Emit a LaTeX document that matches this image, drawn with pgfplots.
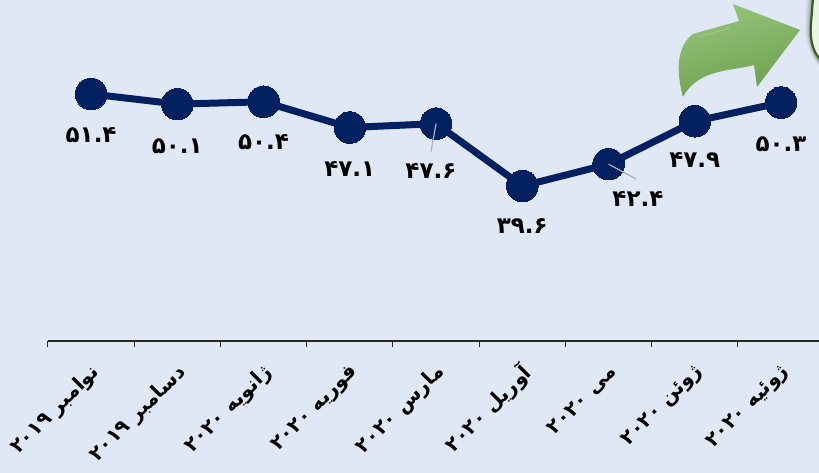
\documentclass[border=0pt]{standalone}
\usepackage{fontspec}
\usepackage{pgfplots}
\pgfplotsset{compat=1.18}
\TeXXeTstate=1
\newfontfamily\arabicfont[Script=Arabic]{DejaVu Sans}
\definecolor{bgblue}{RGB}{224,232,245}
\definecolor{navy}{RGB}{0,32,96}
\definecolor{leader}{RGB}{175,175,175}
\definecolor{arrowdark}{RGB}{108,160,78}
\definecolor{arrowlight}{RGB}{150,196,122}
\definecolor{boxedge}{RGB}{50,95,30}
\definecolor{boxfill}{RGB}{234,246,224}

\newcommand{\lab}[1]{{\arabicfont\bfseries\beginL #1\endL}}
\newcommand{\mon}[2]{{\arabicfont\bfseries\beginR #1 \beginL #2\endL\endR}}

\begin{document}
\begin{tikzpicture}[x=1pt,y=1pt]
\useasboundingbox (0,0) rectangle (819,473);
\fill[bgblue] (0,0) rectangle (819,473);

% arrow
\shade[top color=arrowlight,bottom color=arrowdark,shading angle=15]
  (683,376) .. controls (675,405) and (678,428) .. (693,439)
  -- (739,452) -- (733,469) -- (800,443) -- (757,386) -- (754,408)
  .. controls (735,402) and (698,405) .. (683,376) -- cycle;
\draw[arrowlight!70!white,line width=1.2pt,opacity=.45] (699,436) -- (730,445);

% box at the right edge, with its soft shadow
\foreach \s/\o in {6/.03,5/.04,4/.05,3/.06,2/.07,1/.08}{
  \fill[black,opacity=\o] (825,408-\s) .. controls (815,412-\s) and (809-\s,430) .. (811-\s,450)
    -- (812-\s,473) -- (825,473) -- cycle;
}
\filldraw[draw=boxedge,fill=boxfill,line width=2.2pt]
  (830,408) .. controls (815,412) and (809,430) .. (811,450)
  -- (813,475) -- (830,475) -- cycle;

\begin{axis}[
  at={(48pt,132pt)}, anchor=south west,
  scale only axis, width=771pt, height=341pt,
  xmin=0, xmax=8.94,
  ymin=19.73, ymax=63.45,
  axis y line=none,
  axis x line=bottom,
  axis line style={-, black!85!white, line width=1.1pt},
  xtick={0,1,2,3,4,5,6,7,8},
  xticklabels={},
  tick style={black!85!white, line width=1pt},
  tick align=outside,
  major tick length=6pt,
  extra x ticks={0.5,1.5,2.5,3.5,4.5,5.5,6.5,7.5,8.5},
  extra x tick labels={
    \mon{نوامبر}{۲۰۱۹},\mon{دسامبر}{۲۰۱۹},\mon{ژانویه}{۲۰۲۰},
    \mon{فوریه}{۲۰۲۰},\mon{مارس}{۲۰۲۰},\mon{آوریل}{۲۰۲۰},
    \mon{می}{۲۰۲۰},\mon{ژوئن}{۲۰۲۰},\mon{ژوئیه}{۲۰۲۰}},
  extra x tick style={
    major tick length=0pt,
    tick style={draw=none},
    xticklabel style={rotate=45, anchor=east, font=\fontsize{20}{20}\selectfont,
      xshift=-16pt, yshift=-23.7pt, inner sep=0pt},
  },
  clip=false,
  clip mode=individual,
]
\addplot[navy, line width=7pt, mark=*, mark size=15.8pt,
  mark options={fill=navy, draw=navy, line width=0pt}]
  coordinates {(0.5,51.4) (1.5,50.1) (2.5,50.4) (3.5,47.1) (4.5,47.6)
    (5.5,39.6) (6.5,42.4) (7.5,47.9) (8.5,50.3)};

% leader lines
\addplot[leader, line width=1.2pt] coordinates {(4.5,47.6) (4.44,44.0)};
\addplot[leader, line width=1.2pt] coordinates {(6.5,42.4) (6.82,40.5)};

% value labels
\addplot[only marks, mark=none,
  point meta=explicit symbolic,
  nodes near coords={\lab{\pgfplotspointmeta}},
  nodes near coords style={anchor=center,
    font=\fontsize{23}{23}\selectfont, text=black, inner sep=0pt},
] coordinates {
  (0.5,46.15) [۵۱.۴]
  (1.5,44.75) [۵۰.۱]
  (2.5,45.2) [۵۰.۴]
  (3.5,41.8) [۴۷.۱]
  (4.44,41.5) [۴۷.۶]
  (5.5,34.5) [۳۹.۶]
  (6.84,37.95) [۴۲.۴]
  (7.5,42.9) [۴۷.۹]
  (8.5,45.0) [۵۰.۳]
};
\end{axis}
\end{tikzpicture}
\end{document}
